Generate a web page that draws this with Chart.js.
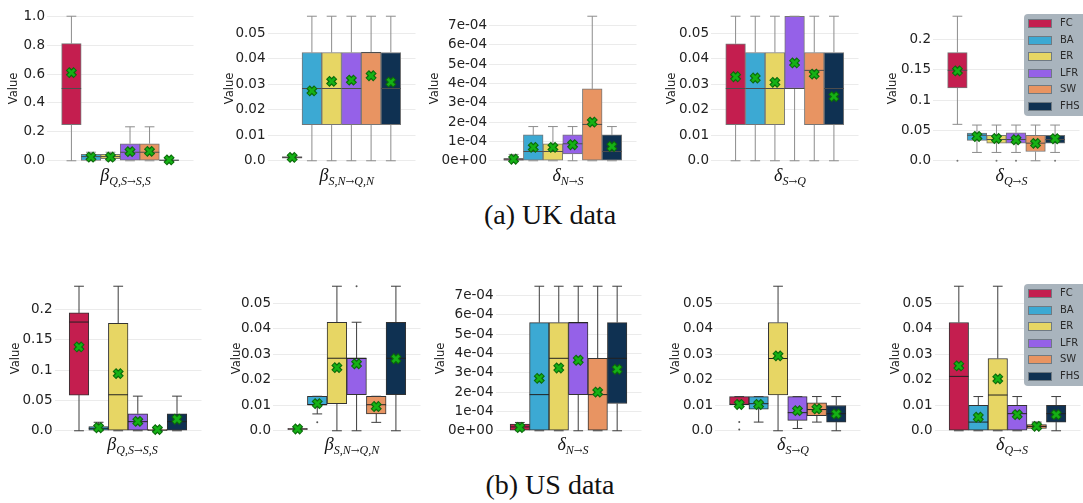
<!DOCTYPE html>
<html>
<head>
<meta charset="utf-8">
<script src="https://cdn.jsdelivr.net/npm/chart.js@4.4.0/dist/chart.umd.min.js"></script>
<style>
body{margin:0;width:1083px;height:503px;overflow:hidden;background:#fff;position:relative}
canvas{position:absolute}
.xt{position:absolute;text-align:center;font-family:'Liberation Serif','DejaVu Serif',serif;font-style:italic;font-size:18px;line-height:20px;color:#111;white-space:nowrap}
.xt span{font-size:12px;position:relative;top:4px}
.xt em{font-family:'DejaVu Serif',serif;font-style:normal;font-size:10.5px}
.lg{position:absolute;background:#a9b4bd;border-radius:4px;width:72px;height:102px;font-family:'DejaVu Sans';font-size:10px;color:#2a2a2a}
.lg div{position:absolute;left:0;height:16px;line-height:16px}
.lg i{position:absolute;left:4px;top:4px;width:22px;height:7px;border:1px solid #6f7a82}
.lg b{position:absolute;left:36px;font-weight:normal}
.cap{position:absolute;left:400px;width:300px;text-align:center;font-family:'Liberation Serif',serif;font-size:28px;line-height:28px;color:#111}
</style>
</head>
<body>
<div class="cap" style="top:201px">(a) UK data</div>
<div class="cap" style="top:471px">(b) US data</div>
<script>
var models = ['FC','BA','ER','LFR','SW','FHS'];

// each row: [whisker low, q1, median, q3, whisker high, mean]
var ukBetaQS = [
	[0, 0.25, 0.50, 0.81, 1.0, 0.61],
	[0, 0.002, 0.029, 0.044, 0.059, 0.025],
	[0, 0.015, 0.029, 0.044, 0.059, 0.025],
	[0, 0, 0.059, 0.118, 0.235, 0.063],
	[0, 0, 0.059, 0.118, 0.235, 0.065],
	[0, 0, 0.003, 0.006, 0.012, 0.006]
];
var ukBetaSN = [
	[0.0005, 0.001, 0.0013, 0.0016, 0.002, 0.0013],
	[0, 0.0141, 0.0283, 0.0424, 0.0566, 0.0274],
	[0, 0.0141, 0.0283, 0.0424, 0.0566, 0.0311],
	[0, 0.0141, 0.0283, 0.0424, 0.0566, 0.0316],
	[0, 0.0141, 0.0424, 0.0424, 0.0566, 0.0333],
	[0, 0.0141, 0.0283, 0.0424, 0.0566, 0.0308]
];
var ukDeltaNS = [
	[0, 0, 5e-6, 1.3e-5, 3.3e-5, 8e-6],
	[0, 0, 4.8e-5, 1.34e-4, 1.77e-4, 6.9e-5],
	[0, 0, 4.8e-5, 8.8e-5, 1.77e-4, 6.9e-5],
	[0, 3.6e-5, 8.8e-5, 1.34e-4, 1.77e-4, 8.3e-5],
	[0, 0, 1.88e-4, 3.72e-4, 7.48e-4, 2.0e-4],
	[0, 0, 4.8e-5, 1.34e-4, 1.77e-4, 7.4e-5]
];
var ukDeltaSQ = [
	[0, 0.0141, 0.0283, 0.0458, 0.0566, 0.0329],
	[0, 0.0141, 0.0283, 0.0424, 0.0566, 0.0324],
	[0, 0.0141, 0.0283, 0.0424, 0.0566, 0.0307],
	[0, 0.0283, 0.0283, 0.0566, 0.0566, 0.0383],
	[0, 0.0141, 0.0354, 0.0424, 0.0566, 0.0339],
	[0, 0.0141, 0.0283, 0.0424, 0.0566, 0.0251]
];
var ukDeltaQS = [
	[0.06, 0.12, 0.149, 0.178, 0.238, 0.148],
	[0.0137, 0.0335, 0.042, 0.0455, 0.0588, 0.040],
	[0.0137, 0.029, 0.035, 0.042, 0.0588, 0.0367],
	[0.0137, 0.029, 0.035, 0.046, 0.0588, 0.0346],
	[0, 0.0153, 0.029, 0.042, 0.0588, 0.0286],
	[0.0137, 0.029, 0.035, 0.042, 0.0588, 0.0363]
];
var usBetaQS = [
	[0, 0.0588, 0.179, 0.194, 0.238, 0.138],
	[0, 0, 0.004, 0.007, 0.014, 0.005],
	[0, 0, 0.0593, 0.177, 0.238, 0.094],
	[0, 0, 0.015, 0.028, 0.057, 0.0155],
	[0, 0, 0.001, 0.002, 0.003, 0.002],
	[0, 0, 0.015, 0.028, 0.057, 0.019]
];
var usBetaSN = [
	[0.0003, 0.0005, 0.0007, 0.0009, 0.0011, 0.0007],
	[0.0066, 0.0102, 0.0102, 0.0135, 0.0135, 0.0106],
	[0, 0.0106, 0.0284, 0.0425, 0.0566, 0.0247],
	[0, 0.0141, 0.0284, 0.0284, 0.0425, 0.0262],
	[0.0033, 0.0066, 0.0102, 0.0135, 0.0135, 0.0095],
	[0, 0.0141, 0.0284, 0.0425, 0.0566, 0.0282]
];
var usDeltaNS = [
	[0, 0, 2e-5, 3.4e-5, 4.3e-5, 1.7e-5],
	[0, 0, 1.87e-4, 5.6e-4, 7.48e-4, 2.71e-4],
	[0, 0, 3.75e-4, 5.6e-4, 7.48e-4, 3.25e-4],
	[0, 1.87e-4, 5.6e-4, 5.6e-4, 7.48e-4, 3.65e-4],
	[0, 0, 1.87e-4, 3.75e-4, 7.48e-4, 2.0e-4],
	[0, 1.41e-4, 3.75e-4, 5.6e-4, 7.48e-4, 3.18e-4]
];
var usDeltaSQ = [
	[0.0103, 0.0103, 0.0103, 0.0134, 0.0134, 0.0103],
	[0.0034, 0.0085, 0.0106, 0.0134, 0.0134, 0.0103],
	[0, 0.014, 0.0283, 0.0424, 0.0566, 0.0293],
	[0.0009, 0.0041, 0.0071, 0.0134, 0.0134, 0.0079],
	[0.0034, 0.0059, 0.0083, 0.0109, 0.0134, 0.0086],
	[0, 0.0034, 0.0067, 0.0099, 0.0134, 0.0066]
];
var usDeltaQS = [
	[0, 0, 0.0213, 0.0424, 0.0566, 0.0254],
	[0, 0, 0.0034, 0.01, 0.0134, 0.0053],
	[0, 0, 0.014, 0.0283, 0.0566, 0.0203],
	[0, 0, 0.0067, 0.01, 0.0134, 0.0063],
	[0.0009, 0.0009, 0.0017, 0.0024, 0.0034, 0.0017],
	[0, 0.0034, 0.0067, 0.01, 0.0134, 0.0063]
];

// outliers: [model index, value]
var ukDeltaQSFliers = [[0,0],[2,0],[3,0],[5,0]];
var usBetaSNFliers = [[1,0.0033],[3,0.0566]];
var usDeltaSQFliers = [[0,0.0034],[0,0.0005]];

var ticksUnit = [0,0.2,0.4,0.6,0.8,1.0];
var labelsUnit = ['0.0','0.2','0.4','0.6','0.8','1.0'];
var ticksSmall = [0,0.01,0.02,0.03,0.04,0.05];
var labelsSmall = ['0.0','0.01','0.02','0.03','0.04','0.05'];
var ticksTiny = [0,1e-4,2e-4,3e-4,4e-4,5e-4,6e-4,7e-4];
var labelsTiny = ['0e+00','1e-04','2e-04','3e-04','4e-04','5e-04','6e-04','7e-04'];
var ticksMid = [0,0.05,0.1,0.15,0.2];
var labelsMid = ['0.0','0.05','0.1','0.15','0.2'];

var fills = ['#c41e4f','#3ca9d3','#e7d664','#9561e8','#e89462','#0f3152'];
var PAD = 14;   // room for the half-height of the end tick labels
var looks = {
	uk: {edge:'#767676', whisker:'#8c8c8c', median:'#4d4d4d', flier:'#777', top:8.5 - PAD, title:165},
	us: {edge:'#333333', whisker:'#3c3c3c', median:'#222222', flier:'#555', top:278.5 - PAD, title:434}
};

var boxPlot = {
	id: 'boxPlot',
	afterDatasetDraw: function(chart, args, opts) {
		if (args.index !== 0) return;
		var ctx = chart.ctx, ys = chart.scales.y;
		var rows = chart.data.datasets[0].stats;
		ctx.save();
		ctx.lineWidth = 1;
		args.meta.data.forEach(function(bar, i) {
			var r = rows[i], x = bar.x, hw = bar.width / 2;
			var py = function(v) { return ys.getPixelForValue(v); };
			ctx.strokeStyle = opts.whisker;
			ctx.beginPath();
			ctx.moveTo(x, py(r[1])); ctx.lineTo(x, py(r[0]));
			ctx.moveTo(x, py(r[3])); ctx.lineTo(x, py(r[4]));
			ctx.moveTo(x - hw/2, py(r[0])); ctx.lineTo(x + hw/2, py(r[0]));
			ctx.moveTo(x - hw/2, py(r[4])); ctx.lineTo(x + hw/2, py(r[4]));
			ctx.stroke();
			ctx.strokeStyle = opts.median;
			ctx.beginPath();
			ctx.moveTo(x - hw, py(r[2])); ctx.lineTo(x + hw, py(r[2]));
			ctx.stroke();
		});
		ctx.restore();
	}
};

var panels = [
	{stats:ukBetaQS, fliers:[], ticks:ticksUnit, labels:labelsUnit, row:'uk', left:3, chartL:47, chartR:204, sym:'β', sub:['Q,S','S,S']},
	{stats:ukBetaSN, fliers:[], ticks:ticksSmall, labels:labelsSmall, row:'uk', left:219, chartL:267.5, chartR:426, sym:'β', sub:['S,N','Q,N']},
	{stats:ukDeltaNS, fliers:[], ticks:ticksTiny, labels:labelsTiny, row:'uk', left:424, chartL:489, chartR:647, sym:'δ', sub:['N','S']},
	{stats:ukDeltaSQ, fliers:[], ticks:ticksSmall, labels:labelsSmall, row:'uk', left:661, chartL:711, chartR:869, sym:'δ', sub:['S','Q']},
	{stats:ukDeltaQS, fliers:ukDeltaQSFliers, ticks:ticksMid, labels:labelsMid, row:'uk', left:882, chartL:933, chartR:1090, sym:'δ', sub:['Q','S'], legend:14},
	{stats:usBetaQS, fliers:[], ticks:ticksMid, labels:labelsMid, row:'us', left:4.5, chartL:54, chartR:211, sym:'β', sub:['Q,S','S,S']},
	{stats:usBetaSN, fliers:usBetaSNFliers, ticks:ticksSmall, labels:labelsSmall, row:'us', left:226, chartL:273, chartR:431, sym:'β', sub:['S,N','Q,N']},
	{stats:usDeltaNS, fliers:[], ticks:ticksTiny, labels:labelsTiny, row:'us', left:429.5, chartL:495, chartR:651, sym:'δ', sub:['N','S']},
	{stats:usDeltaSQ, fliers:usDeltaSQFliers, ticks:ticksSmall, labels:labelsSmall, row:'us', left:665, chartL:715, chartR:871, sym:'δ', sub:['S','Q']},
	{stats:usDeltaQS, fliers:[], ticks:ticksSmall, labels:labelsSmall, row:'us', left:884.5, chartL:934, chartR:1090, sym:'δ', sub:['Q','S'], legend:284}
];

function makePanel(p) {
	var st = looks[p.row];
	var cv = document.createElement('canvas');
	cv.width = Math.round(p.chartR - p.left);
	cv.height = 159 + 2 * PAD;
	cv.style.left = p.left + 'px';
	cv.style.top = st.top + 'px';
	document.body.appendChild(cv);

	var step = 0.8 / models.length;
	var xs = models.map(function(m, i) { return -0.4 + step * (i + 0.5); });
	var ymax = Math.max.apply(null, p.stats.map(function(r) { return r[4]; }).concat(p.fliers.map(function(f) { return f[1]; })));
	var means = p.stats.map(function(r, i) { return {x: xs[i], y: r[5]}; });

	new Chart(cv, {
		type: 'bar',
		data: {
			datasets: [{
				type: 'bar',
				order: 3,
				data: p.stats.map(function(r, i) { return {x: xs[i], y: [r[1], r[3]]}; }),
				stats: p.stats,
				backgroundColor: fills,
				borderColor: st.edge,
				borderWidth: 1,
				borderSkipped: false,
				barPercentage: 1,
				categoryPercentage: 1
			}, {
				type: 'scatter',
				order: 2,
				data: p.fliers.map(function(f) { return {x: xs[f[0]], y: f[1]}; }),
				pointRadius: 1,
				backgroundColor: st.flier,
				borderWidth: 0
			}, {
				type: 'scatter',
				order: 1,
				data: means,
				pointStyle: 'crossRot',
				pointRadius: 5.5,
				borderWidth: 5,
				borderColor: '#0b6a0b'
			}, {
				type: 'scatter',
				order: 0,
				data: means,
				pointStyle: 'crossRot',
				pointRadius: 4.6,
				borderWidth: 2.6,
				borderColor: '#15b115'
			}]
		},
		options: {
			responsive: false,
			animation: false,
			events: [],
			layout: {padding: {top: PAD, bottom: PAD, left: 0, right: 0}},
			plugins: {
				legend: {display: false},
				tooltip: {enabled: false},
				boxPlot: {whisker: st.whisker, median: st.median}
			},
			scales: {
				x: {
					type: 'linear', min: -0.5, max: 0.5, display: false,
					afterBuildTicks: function(s) { s.ticks = []; }
				},
				y: {
					min: -0.05 * ymax, max: 1.05 * ymax,
					afterBuildTicks: function(s) { s.ticks = p.ticks.map(function(v) { return {value: v}; }); },
					afterFit: function(s) { s.width = p.chartL - p.left; },
					ticks: {
						autoSkip: false,
						callback: function(v, i) { return p.labels[i]; },
						font: {family: 'DejaVu Sans', size: 13.5},
						color: '#222',
						padding: 2
					},
					grid: {color: '#ebebeb', drawTicks: false},
					border: {display: false},
					title: {display: true, text: 'Value', font: {family: 'DejaVu Sans', size: 11.5}, color: '#222'}
				}
			}
		},
		plugins: [boxPlot]
	});

	var xt = document.createElement('div');
	xt.className = 'xt';
	xt.style.left = p.chartL + 'px';
	xt.style.width = (p.chartR - p.chartL) + 'px';
	xt.style.top = st.title + 'px';
	xt.innerHTML = p.sym + '<span>' + p.sub[0] + '<em>→</em>' + p.sub[1] + '</span>';
	document.body.appendChild(xt);

	if (p.legend !== undefined) {
		var lg = document.createElement('div');
		lg.className = 'lg';
		lg.style.left = '1024px';
		lg.style.top = p.legend + 'px';
		models.forEach(function(m, i) {
			var row = document.createElement('div');
			row.style.top = (1 + i * 16.6) + 'px';
			row.innerHTML = '<i style="background:' + fills[i] + '"></i><b>' + m + '</b>';
			lg.appendChild(row);
		});
		document.body.appendChild(lg);
	}
}

panels.forEach(makePanel);
</script>
</body>
</html>
